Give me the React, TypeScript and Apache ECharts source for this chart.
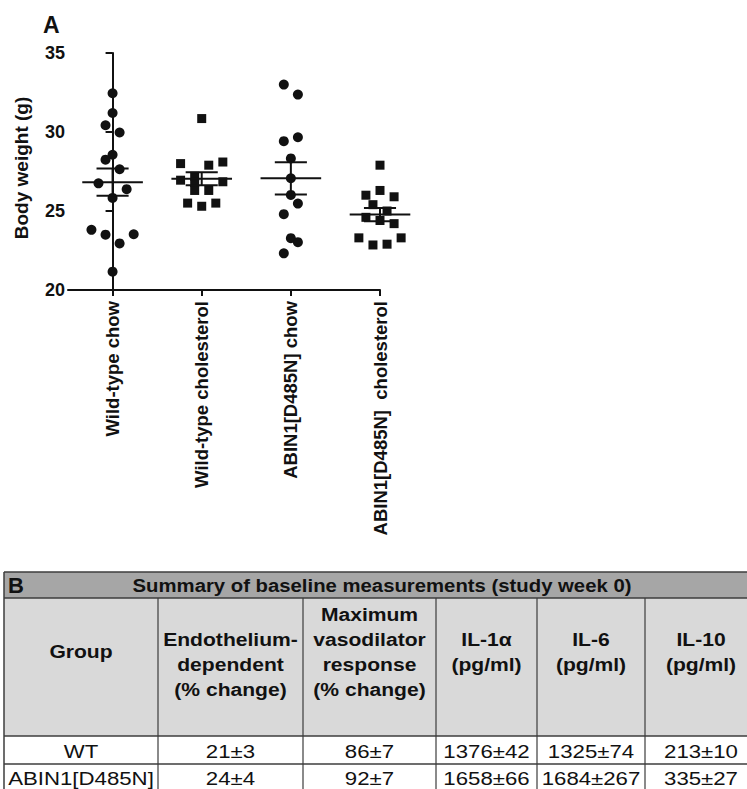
import React, { useEffect, useRef } from "react";
import * as echarts from "echarts";

// ---------- Panel A data ----------
const groups = [
  "Wild-type chow",
  "Wild-type cholesterol",
  "ABIN1[D485N] chow",
  "ABIN1[D485N]  cholesterol",
];
const yTicks = [20, 25, 30, 35];

const wtChow = [32.45, 31.2, 30.43, 29.97, 28.56, 28.25, 27.64, 26.75, 26.38, 25.83, 23.81, 23.5, 23.53, 22.95, 21.16];
const wtChowSlot = [0, 0, -1, 1, 0, -1, 1, -2, 2, 0, -3, -1, 3, 1, 0];

const wtChol = [30.85, 28.0, 27.9, 28.1, 27.2, 26.95, 26.85, 26.8, 26.3, 26.3, 25.5, 25.3, 25.5];
const wtCholSlot = [0, -3, 1, 3, -1, -3, 3, -1, -1, 1, -2, 0, 2];

const abinChow = [33.0, 32.37, 29.67, 29.42, 28.33, 27.07, 26.02, 25.47, 24.8, 23.28, 23.03, 22.32];
const abinChowSlot = [-1, 1, 1, -1, 0, 0, 0, 1, -1, 0, 1, -1];

const abinChol = [27.9, 26.0, 26.3, 25.9, 25.4, 25.0, 24.6, 24.4, 24.2, 23.3, 22.85, 22.9, 23.3];
const abinCholSlot = [0, -2, 0, 2, -1, 1, -2, 0, 2, -3, -1, 1, 3];

const groupValues = [wtChow, wtChol, abinChow, abinChol];
const groupSlots = [wtChowSlot, wtCholSlot, abinChowSlot, abinCholSlot];
const groupSymbols = ["circle", "rect", "circle", "rect"];

// ---------- Panel B data ----------
const tableTitle = "Summary of baseline measurements (study week 0)";
const colHeaders = [
  ["Group"],
  ["", "Endothelium-", "dependent", "(% change)"],
  ["Maximum", "vasodilator", "response", "(% change)"],
  ["IL-1\u03b1", "(pg/ml)"],
  ["IL-6", "(pg/ml)"],
  ["IL-10", "(pg/ml)"],
];
const rowGroups = ["WT", "ABIN1[D485N]"];
const endoDep = ["21\u00b13", "24\u00b14"];
const maxVaso = ["86\u00b17", "92\u00b17"];
const il1a = ["1376\u00b142", "1658\u00b166"];
const il6 = ["1325\u00b174", "1684\u00b1267"];
const il10 = ["213\u00b110", "335\u00b127"];

const FONT = '"Liberation Sans", Arial, Helvetica, sans-serif';
const INK = "#111111";
const SLOT = 0.079;

function mean(a: number[]) {
  return a.reduce((s, v) => s + v, 0) / a.length;
}
function sem(a: number[]) {
  const m = mean(a);
  const sd = Math.sqrt(a.reduce((s, v) => s + (v - m) * (v - m), 0) / (a.length - 1));
  return sd / Math.sqrt(a.length);
}

function buildTable(): any[] {
  const els: any[] = [];
  const colEdges = [4, 158, 303, 436, 537, 645, 757];
  const yTop = 572, yHead = 598, yBody = 736, yRow2 = 764, yBottom = 794;
  const line = "#3c3c3c";
  const left = colEdges[0];
  els.push({ type: "rect", shape: { x: left, y: yTop, width: 760, height: yHead - yTop }, style: { fill: "#a6a6a6" } });
  els.push({ type: "rect", shape: { x: left, y: yHead, width: 760, height: yBody - yHead }, style: { fill: "#d9d9d9" } });
  els.push({ type: "rect", shape: { x: left, y: yBody, width: 760, height: yBottom - yBody }, style: { fill: "#ffffff" } });
  [yTop, yHead, yBody, yRow2].forEach((y) => {
    els.push({ type: "line", shape: { x1: left, y1: y, x2: 760, y2: y }, style: { stroke: line, lineWidth: 1.5 } });
  });
  els.push({ type: "line", shape: { x1: left, y1: yTop, x2: left, y2: yBottom }, style: { stroke: line, lineWidth: 1.5 } });
  colEdges.slice(1).forEach((x) => {
    els.push({ type: "line", shape: { x1: x, y1: yHead, x2: x, y2: yBottom }, style: { stroke: line, lineWidth: 1.2 } });
  });
  const txt = (t: string, x: number, y: number, size: number, bold: boolean, align = "center", sx = 1.17) => ({
    type: "text",
    x,
    y,
    scaleX: sx,
    style: {
      text: t,
      x: 0,
      y: 0,
      fill: INK,
      fontFamily: FONT,
      fontSize: size,
      fontWeight: bold ? "bold" : "normal",
      align,
      verticalAlign: "middle",
    },
  });
  els.push(txt("B", 8, 585, 22, true, "left", 1.0));
  els.push(txt(tableTitle, 382, 585, 19, true, "center", 1.07));
  colHeaders.forEach((lines, ci) => {
    const cx = (colEdges[ci] + colEdges[ci + 1]) / 2;
    const start = 651.5 - (lines.length - 1) * 12.5;
    lines.forEach((l, li) => {
      if (l) els.push(txt(l, cx, start + li * 25, 18.5, true, "center", 1.14));
    });
  });
  const cols = [rowGroups, endoDep, maxVaso, il1a, il6, il10];
  const rowCenters = [(yBody + yRow2) / 2 + 1, (yRow2 + yBottom) / 2 - 1];
  cols.forEach((vals, ci) => {
    const cx = (colEdges[ci] + colEdges[ci + 1]) / 2;
    vals.forEach((v, ri) => els.push(txt(v, cx, rowCenters[ri], 19, false)));
  });
  return els;
}

export default function App() {
  const ref = useRef<HTMLDivElement>(null);
  useEffect(() => {
    if (!ref.current) return;
    const chart = echarts.init(ref.current, null, { renderer: "svg" });
    const scatterSeries = groupValues.map((vals, gi) => ({
      type: "scatter",
      symbol: groupSymbols[gi],
      symbolSize: groupSymbols[gi] === "circle" ? 10 : 9,
      itemStyle: { color: INK, opacity: 1 },
      clip: false,
      data: vals.map((v, i) => [gi + groupSlots[gi][i] * SLOT, v]),
      z: 2,
    }));
    const statsData = groupValues.map((vals, gi) => [gi, mean(vals), sem(vals)]);
    const option: any = {
      animation: false,
      backgroundColor: "#ffffff",
      textStyle: { fontFamily: FONT },
      grid: { left: 68, top: 53, width: 312, height: 237 },
      xAxis: {
        type: "value",
        min: -0.5,
        max: 3.0,
        splitLine: { show: false },
        axisLine: { lineStyle: { color: INK, width: 2 } },
        axisTick: { show: true, customValues: [0, 1, 2, 3], length: 6, lineStyle: { color: INK, width: 2 } },
        axisLabel: {
          customValues: [0, 1, 2, 3],
          rotate: 90,
          margin: 11,
          color: INK,
          fontFamily: FONT,
          fontSize: 18.5,
          fontWeight: "bold",
          formatter: (v: number) => groups[Math.round(v)],
        },
      },
      yAxis: {
        type: "value",
        min: yTicks[0],
        max: yTicks[yTicks.length - 1],
        interval: 5,
        splitLine: { show: false },
        axisLine: { show: true, lineStyle: { color: INK, width: 2 } },
        axisTick: { show: true, length: 7, lineStyle: { color: INK, width: 2 } },
        axisLabel: { color: INK, fontFamily: FONT, fontSize: 18, fontWeight: "bold", margin: 3 },
      },
      series: [
        ...scatterSeries,
        {
          type: "custom",
          data: statsData,
          encode: { x: 0, y: 1 },
          clip: false,
          z: 3,
          renderItem: (params: any, api: any) => {
            const x = api.value(0);
            const m = api.value(1);
            const s = api.value(2);
            const c = api.coord([x, m]);
            const hi = api.coord([x, m + s]);
            const lo = api.coord([x, m - s]);
            const wm = api.size([0.34, 0])[0];
            const ws = api.size([0.18, 0])[0];
            const st = { stroke: INK, lineWidth: 2 };
            return {
              type: "group",
              children: [
                { type: "line", shape: { x1: c[0] - wm, y1: c[1], x2: c[0] + wm, y2: c[1] }, style: st },
                { type: "line", shape: { x1: c[0] - ws, y1: hi[1], x2: c[0] + ws, y2: hi[1] }, style: st },
                { type: "line", shape: { x1: c[0] - ws, y1: lo[1], x2: c[0] + ws, y2: lo[1] }, style: st },
                { type: "line", shape: { x1: c[0], y1: hi[1], x2: c[0], y2: lo[1] }, style: st },
              ],
            };
          },
        },
      ],
      graphic: [
        {
          type: "text",
          left: 43,
          top: 13,
          style: { text: "A", fill: INK, fontFamily: FONT, fontSize: 23, fontWeight: "bold" },
        },
        {
          type: "text",
          x: 21,
          y: 168,
          rotation: Math.PI / 2,
          style: {
            text: "Body weight (g)",
            x: 0,
            y: 0,
            fill: INK,
            fontFamily: FONT,
            fontSize: 19,
            fontWeight: "bold",
            align: "center",
            verticalAlign: "middle",
          },
        },
        ...buildTable(),
      ],
    };
    chart.setOption(option);
    return () => chart.dispose();
  }, []);
  return (
    <div
      ref={ref}
      style={{ position: "absolute", left: 0, top: 0, width: 747, height: 789, background: "#fff" }}
    />
  );
}
